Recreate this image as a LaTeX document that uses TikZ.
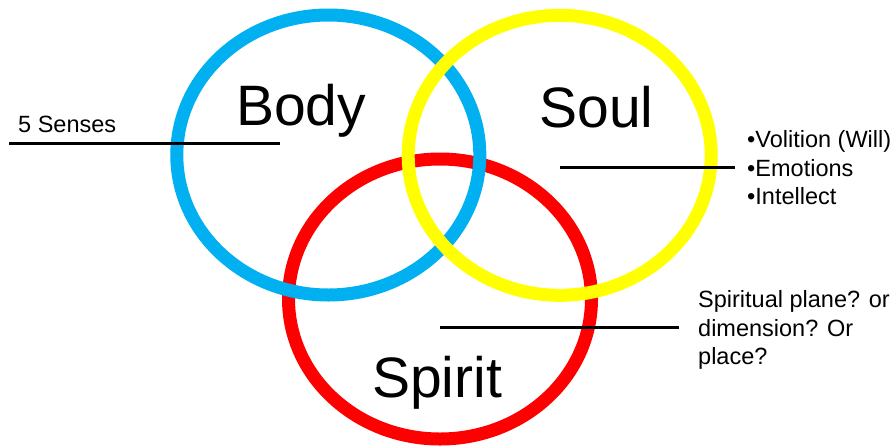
\documentclass[tikz,border=0pt]{standalone}
\usepackage{fontspec}
\setmainfont{Liberation Sans}
\definecolor{ringblue}{HTML}{00B0F0}
\definecolor{ringyellow}{HTML}{FFFF00}
\definecolor{ringred}{HTML}{FF0000}
\begin{document}
\begin{tikzpicture}[x=1pt,y=-1pt,
  ring/.style={line width=13pt},
  pointer/.style={line width=3pt,black},
  bigword/.style={font=\fontsize{57}{68}\selectfont,inner sep=0pt,anchor=base},
  note/.style={font=\fontsize{23.5}{28}\selectfont,inner sep=0pt,anchor=base west}]
\useasboundingbox (0,0) rectangle (893,445);
% rings: red bottom, blue, yellow on top
\draw[ring,ringred] (440,299) ellipse [x radius=151.5, y radius=140];
\draw[ring,ringblue] (328.3,155) ellipse [x radius=151.5, y radius=140];
\draw[ring,ringyellow] (559.7,155.3) ellipse [x radius=151.5, y radius=140];
% titles
\node[bigword] (body) at (301,125) {Body};
\node[bigword] (soul) at (596.5,127) {Soul};
\node[bigword] (spirit) at (437,397) {Spirit};
% notes
\node[note] (senses) at (18,132) {5 Senses};
\node[note] (will) at (747,147) {•Volition (Will)};
\node[note] (emo) at (747,176) {•Emotions};
\node[note] (intel) at (747,204) {•Intellect};
\node[note] (sp1) at (698,307) {Spiritual plane? or};
\node[note] (sp2) at (698,336) {dimension? Or};
\node[note] (sp3) at (698,364) {place?};
% pointer lines
\coordinate (a1) at (9,143);
\coordinate (a2) at (280,143);
\coordinate (b1) at (560,167.5);
\coordinate (b2) at (735,167.5);
\coordinate (c1) at (440,327.5);
\coordinate (c2) at (679,327.5);
\draw[pointer] (a1) -- (a2);
\draw[pointer] (b1) -- (b2);
\draw[pointer] (c1) -- (c2);
\end{tikzpicture}
\end{document}
